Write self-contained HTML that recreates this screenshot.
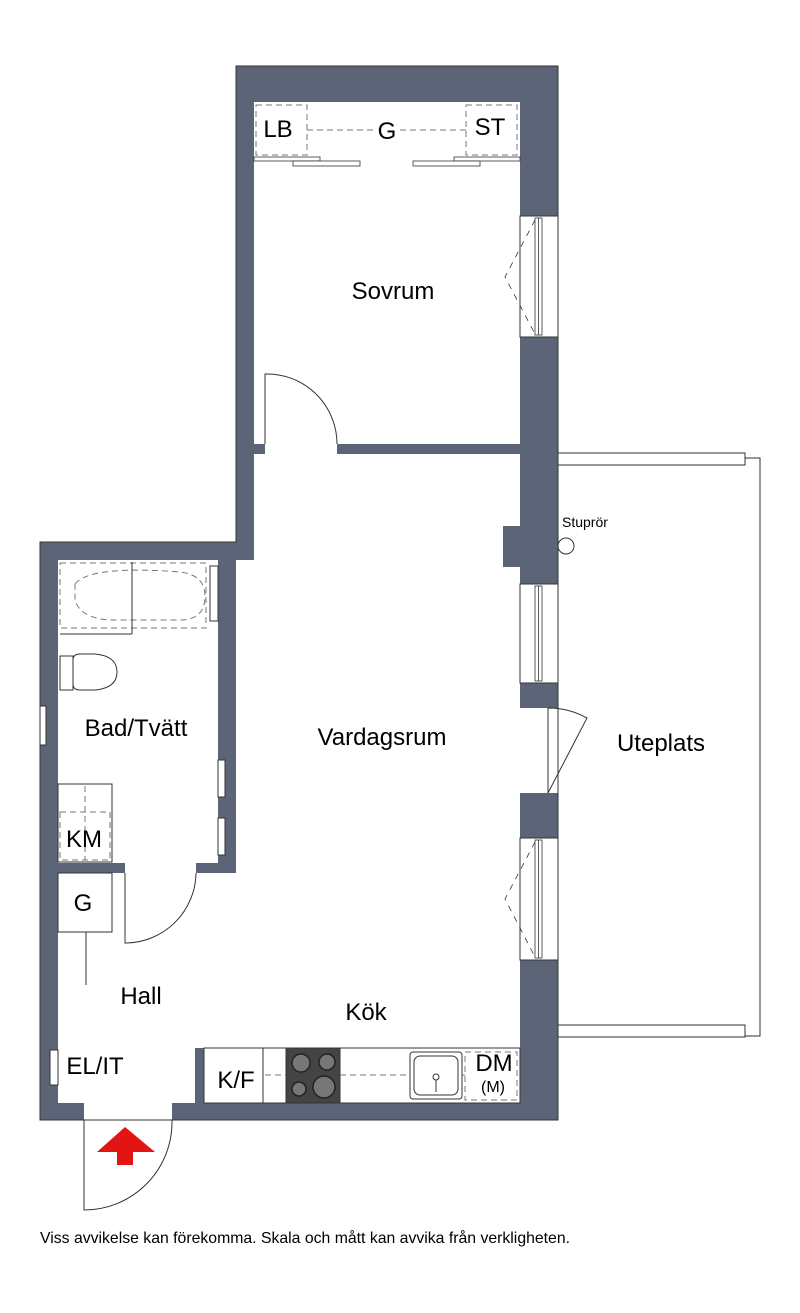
<!DOCTYPE html>
<html><head><meta charset="utf-8"><style>
html,body{margin:0;padding:0;background:#fff;}
svg{display:block;}
text{font-family:"Liberation Sans",Arial,sans-serif;fill:#000;}
</style></head><body>
<svg width="800" height="1313" viewBox="0 0 800 1313" xmlns="http://www.w3.org/2000/svg">
<rect x="558" y="458" width="202" height="578" fill="#fff" stroke="#333" stroke-width="1"/>
<rect x="558" y="453" width="187" height="12" fill="#fff" stroke="#333" stroke-width="1"/>
<rect x="558" y="1025" width="187" height="12" fill="#fff" stroke="#333" stroke-width="1"/>
<path d="M236,66 H558 V1120 H40 V542 H236 Z" fill="#5b6577" stroke="#333" stroke-width="1"/>
<g fill="#fff">
<rect x="254" y="102" width="266" height="342"/>
<rect x="265" y="443" width="72" height="12"/>
<rect x="254" y="454" width="266" height="107"/>
<rect x="236" y="560" width="284" height="314"/>
<rect x="58" y="560" width="160" height="303"/>
<rect x="125" y="862" width="71" height="12"/>
<rect x="58" y="873" width="462" height="175"/>
<rect x="58" y="1047" width="137" height="56"/>
<rect x="84" y="1102" width="88" height="19"/>
<rect x="519" y="708" width="40" height="85"/>
<rect x="520" y="216" width="38" height="121" stroke="#333" stroke-width="1"/>
<rect x="520" y="584" width="38" height="99" stroke="#333" stroke-width="1"/>
<rect x="520" y="838" width="38" height="122" stroke="#333" stroke-width="1"/>
<rect x="40" y="706" width="6" height="39" stroke="#333" stroke-width="1"/>
<rect x="218" y="760" width="7" height="37" stroke="#333" stroke-width="1"/>
<rect x="218" y="818" width="7" height="37" stroke="#333" stroke-width="1"/>
<rect x="50" y="1050" width="8" height="35" stroke="#333" stroke-width="1"/>
</g>
<g fill="#5b6577">
<rect x="503" y="526" width="18" height="41"/>
<rect x="534" y="702" width="14" height="6"/>
<rect x="534" y="793" width="14" height="6"/>
<rect x="195" y="1048" width="9" height="55"/>
</g>
<g fill="#fff" stroke="#333" stroke-width="0.8">
<rect x="535" y="218" width="7" height="117"/><line x1="538.5" y1="218" x2="538.5" y2="335"/>
<rect x="535" y="586" width="7" height="95"/><line x1="538.5" y1="586" x2="538.5" y2="681"/>
<rect x="535" y="840" width="7" height="118"/><line x1="538.5" y1="840" x2="538.5" y2="958"/>
</g>
<g stroke="#333" stroke-width="0.8" fill="none" stroke-dasharray="6,6">
<path d="M535,220 L505,277 L535,334"/>
<path d="M535,842 L505,899 L535,957"/>
</g>
<line x1="558" y1="66" x2="558" y2="1120" stroke="#333" stroke-width="1"/>
<g stroke="#333" stroke-width="1" fill="none">
<path d="M265,444 V374 A70,70 0 0 1 337,444"/>
<path d="M125,873 V943 A71,71 0 0 0 196,873"/>
<path d="M84,1120 V1210 A88,88 0 0 0 172,1120"/>
<line x1="84" y1="1120" x2="172" y2="1120"/>
<path d="M548,708 V793 L587,718 A80,80 0 0 0 548,708"/>
<circle cx="566" cy="546" r="8" fill="#fff"/>
</g>
<polygon points="125,1127 155,1152 133,1152 133,1165 117,1165 117,1152 97,1152" fill="#e31414"/>
<g stroke="#777" stroke-width="1" fill="none" stroke-dasharray="6,4">
<rect x="256" y="105" width="51" height="50"/>
<rect x="466" y="105" width="51" height="50"/>
<line x1="307" y1="130" x2="374" y2="130"/>
<line x1="400" y1="130" x2="466" y2="130"/>
</g>
<g stroke="#333" stroke-width="0.8" fill="#fff">
<rect x="254" y="157" width="66" height="4"/>
<rect x="293" y="161" width="67" height="5"/>
<rect x="454" y="157" width="66" height="4"/>
<rect x="413" y="161" width="67" height="5"/>
</g>
<g stroke="#777" stroke-width="1" fill="none" stroke-dasharray="6,4">
<rect x="60" y="563" width="146" height="65"/>
<path d="M75,584 Q90,565 180,572 Q205,575 205,596 Q205,620 180,620 L110,620 Q80,618 75,600 Z"/>
</g>
<g stroke="#333" stroke-width="1" fill="none">
<line x1="132" y1="562" x2="132" y2="634"/><line x1="60" y1="634" x2="132" y2="634"/>
<rect x="210" y="566" width="8" height="55" fill="#fff"/>
<path d="M73,660 Q73,654 80,654 H95 Q117,656 117,672 Q117,688 95,690 H80 Q73,690 73,684 Z" fill="#fff"/>
<path d="M60,656 H73 V690 H60 Z" fill="#fff"/>
<rect x="58" y="784" width="54" height="78" fill="#fff"/>
<rect x="58" y="873" width="54" height="59" fill="#fff"/>
<line x1="86" y1="932" x2="86" y2="985"/>
</g>
<g stroke="#777" stroke-width="1" fill="none" stroke-dasharray="6,4">
<rect x="60" y="812" width="50" height="48"/><line x1="85" y1="786" x2="85" y2="860"/>
</g>
<g stroke="#333" stroke-width="1">
<rect x="204" y="1048" width="316" height="55" fill="#fff"/>
<line x1="263" y1="1048" x2="263" y2="1103"/>
<rect x="286" y="1048" width="54" height="55" fill="#444"/>
</g>
<g stroke="#222" stroke-width="1.5" fill="#777">
<circle cx="301" cy="1063" r="9"/><circle cx="327" cy="1062" r="8"/>
<circle cx="299" cy="1089" r="7"/><circle cx="324" cy="1087" r="11"/>
</g>
<g stroke="#777" stroke-width="1" fill="none" stroke-dasharray="6,4">
<line x1="265" y1="1075" x2="286" y2="1075"/><line x1="340" y1="1075" x2="465" y2="1075"/>
<rect x="465" y="1052" width="52" height="48"/>
</g>
<g stroke="#333" stroke-width="1" fill="#fff">
<rect x="410" y="1052" width="52" height="47" rx="3"/>
<rect x="414" y="1056" width="44" height="39" rx="6"/>
<line x1="436" y1="1076" x2="436" y2="1092"/><circle cx="436" cy="1077" r="3"/>
</g>
<g font-size="24">
<text x="393" y="299" text-anchor="middle">Sovrum</text>
<text x="382" y="745" text-anchor="middle">Vardagsrum</text>
<text x="136" y="736" text-anchor="middle">Bad/Tvätt</text>
<text x="661" y="751" text-anchor="middle">Uteplats</text>
<text x="141" y="1004" text-anchor="middle">Hall</text>
<text x="366" y="1020" text-anchor="middle">Kök</text>
<text x="95" y="1074" text-anchor="middle">EL/IT</text>
<text x="236" y="1088" text-anchor="middle">K/F</text>
<text x="83" y="911" text-anchor="middle">G</text>
<text x="84" y="847" text-anchor="middle">KM</text>
<text x="278" y="137" text-anchor="middle">LB</text>
<text x="387" y="139" text-anchor="middle">G</text>
<text x="490" y="135" text-anchor="middle">ST</text>
<text x="494" y="1071" text-anchor="middle">DM</text>
</g>
<text x="493" y="1092" text-anchor="middle" font-size="16">(M)</text>
<text x="562" y="527" font-size="14">Stuprör</text>
<text x="40" y="1243" font-size="15.8">Viss avvikelse kan förekomma. Skala och mått kan avvika från verkligheten.</text>
</svg>
</body></html>
